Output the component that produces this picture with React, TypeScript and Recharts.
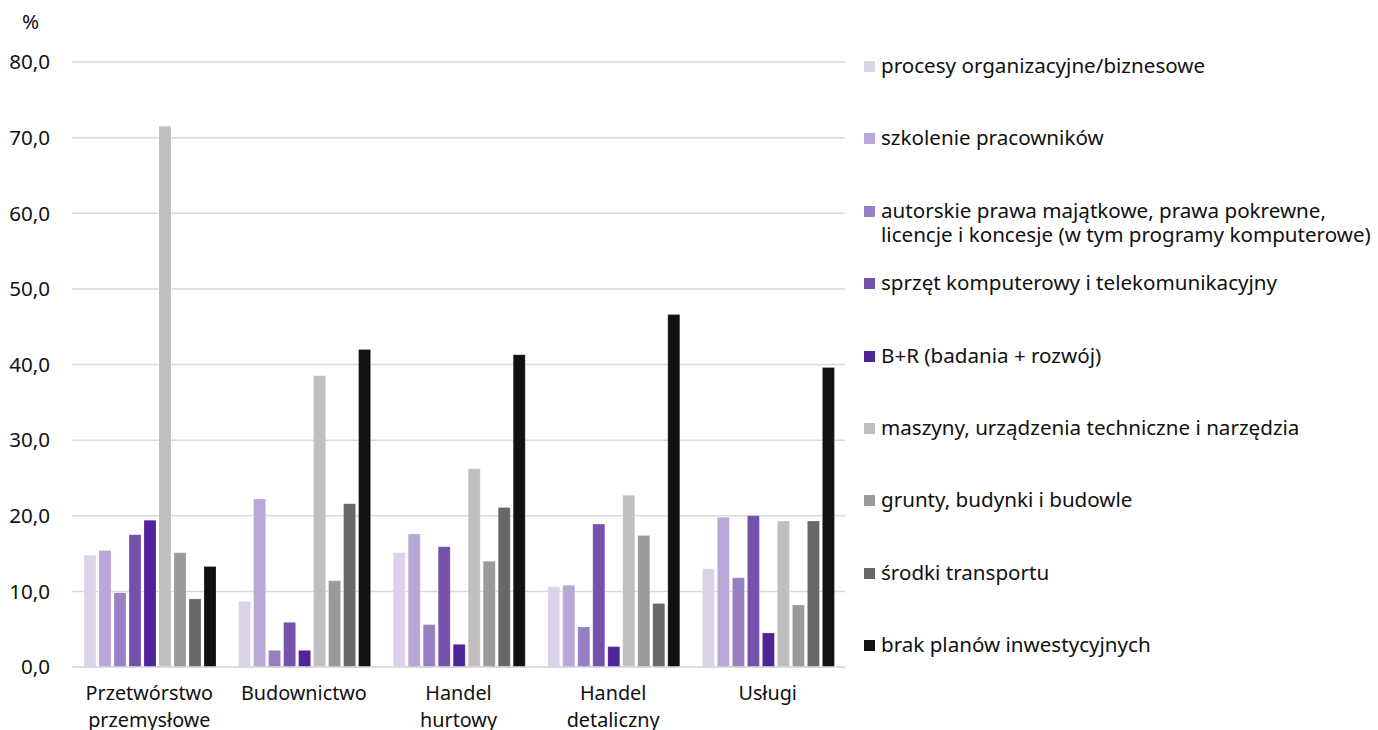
import React from 'react';
import { BarChart, Bar, XAxis, YAxis, CartesianGrid } from 'recharts';

const categories = ['Przetwórstwo przemysłowe', 'Budownictwo', 'Handel hurtowy', 'Handel detaliczny', 'Usługi'];

const seriesNames = [
  'procesy organizacyjne/biznesowe',
  'szkolenie pracowników',
  'autorskie prawa majątkowe, prawa pokrewne,\nlicencje i koncesje (w tym programy komputerowe)',
  'sprzęt komputerowy i telekomunikacyjny',
  'B+R (badania + rozwój)',
  'maszyny, urządzenia techniczne i narzędzia',
  'grunty, budynki i budowle',
  'środki transportu',
  'brak planów inwestycyjnych',
];

const procesy = [14.8, 8.7, 15.1, 10.6, 13.0];
const szkolenie = [15.4, 22.2, 17.6, 10.8, 19.8];
const autorskie = [9.8, 2.2, 5.6, 5.3, 11.8];
const sprzet = [17.5, 5.9, 15.9, 18.9, 20.0];
const br = [19.4, 2.2, 3.0, 2.7, 4.5];
const maszyny = [71.5, 38.5, 26.2, 22.7, 19.3];
const grunty = [15.1, 11.4, 14.0, 17.4, 8.2];
const srodki = [9.0, 21.6, 21.1, 8.4, 19.3];
const brak = [13.3, 42.0, 41.3, 46.6, 39.6];

const yTicks = [0, 10, 20, 30, 40, 50, 60, 70, 80];

const colors = ['#dcd3ea', '#b9a7d5', '#977fc2', '#7551ad', '#512399', '#bfbfbf', '#9a9a9a', '#686868', '#111111'];

const seriesValues = [procesy, szkolenie, autorskie, sprzet, br, maszyny, grunty, srodki, brak];
const keys = ['s0', 's1', 's2', 's3', 's4', 's5', 's6', 's7', 's8'];

const data = categories.map((c, i) => {
  const row: any = { name: c };
  seriesValues.forEach((arr, k) => {
    row[keys[k]] = arr[i];
  });
  return row;
});

const FONT = "'Noto Sans', sans-serif";
const FS = 20.6;
const XFS = 19.8;

const XTick = (props: any) => {
  const { x, y, payload } = props;
  const words = String(payload.value).split(' ');
  return (
    <g transform={`translate(${x},${y})`}>
      {words.map((w: string, i: number) => (
        <text key={i} x={0} y={25 + i * 27} textAnchor="middle" fill="#111" fontSize={XFS} fontFamily={FONT}>
          {w}
        </text>
      ))}
    </g>
  );
};

export default function App() {
  return (
    <div style={{ position: 'absolute', left: 0, top: 0, width: 1378, height: 730, background: '#fff', overflow: 'hidden' }}>
      <div style={{ position: 'absolute', left: 22, top: 7, fontFamily: FONT, fontSize: FS, color: '#111' }}>%</div>
      <BarChart
        width={1378}
        height={730}
        data={data}
        margin={{ top: 62, right: 533, bottom: 0, left: 0 }}
        barGap={3}
        barCategoryGap={12}
      >
        <CartesianGrid vertical={false} stroke="#d9d9d9" strokeWidth={1.5} />
        <XAxis
          dataKey="name"
          tick={<XTick />}
          tickLine={false}
          axisLine={{ stroke: '#d9d9d9', strokeWidth: 1.5 }}
          interval={0}
          height={63}
        />
        <YAxis
          width={72}
          domain={[0, 80]}
          ticks={yTicks}
          tickFormatter={(v: number) => v.toFixed(1).replace('.', ',')}
          tick={{ fill: '#111', fontSize: FS, fontFamily: FONT }}
          axisLine={false}
          tickLine={false}
          tickMargin={16}
        />
        {keys.map((k, i) => (
          <Bar key={k} dataKey={k} name={seriesNames[i]} fill={colors[i]} stroke="#ffffff" strokeOpacity={0.35} strokeWidth={0.6} isAnimationActive={false} />
        ))}
      </BarChart>
      <div style={{ position: 'absolute', left: 864, top: 0, width: 514, height: 730, fontFamily: FONT, fontSize: FS, color: '#111' }}>
        {seriesNames.map((n, i) => (
          <div key={i} style={{ position: 'absolute', left: 0, top: 53 + i * 72.4, display: 'flex', alignItems: 'flex-start' }}>
            <div style={{ width: 11, height: 11, background: colors[i], marginTop: 8, marginRight: 6, flex: 'none' }} />
            <div style={{ lineHeight: '24px', whiteSpace: 'pre' }}>{n}</div>
          </div>
        ))}
      </div>
    </div>
  );
}
